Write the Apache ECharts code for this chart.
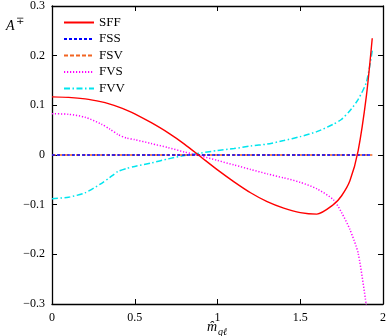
<!DOCTYPE html>
<html>
<head>
<meta charset="utf-8">
<script src="https://cdn.jsdelivr.net/npm/echarts@6/dist/echarts.min.js"></script>
<style>
html,body{margin:0;padding:0;background:#fff;}
#chart{width:390px;height:336px;}
</style>
</head>
<body>
<div id="chart"></div>
<script>
// x grid (m_hat_ql)
const xs = [0, 0.1, 0.2, 0.3, 0.35, 0.4, 0.45, 0.5, 0.6, 0.7, 0.8, 0.9, 1.0, 1.1, 1.2, 1.3, 1.4, 1.5, 1.6, 1.7, 1.75, 1.8, 1.85, 1.9, 1.935];
const sff = [0.117, 0.116, 0.113, 0.107, 0.1025, 0.097, 0.0905, 0.083, 0.065, 0.045, 0.022, -0.004, -0.030, -0.054, -0.076, -0.094, -0.107, -0.116, -0.119, -0.100, -0.082, -0.052, 0.009, 0.120, 0.235];
const fss = [0, 0, 0, 0, 0, 0, 0, 0, 0, 0, 0, 0, 0, 0, 0, 0, 0, 0, 0, 0, 0, 0, 0, 0, 0];
const fsv = [0, 0, 0, 0, 0, 0, 0, 0, 0, 0, 0, 0, 0, 0, 0, 0, 0, 0, 0, 0, 0, 0, 0, 0, 0];
const fvs = [0.083, 0.082, 0.076, 0.062, 0.052, 0.041, 0.034, 0.031, 0.023, 0.015, 0.006, -0.002, -0.011, -0.020, -0.029, -0.038, -0.046, -0.055, -0.068, -0.090, -0.116, -0.150, -0.198, -0.305, null];
const fvv = [-0.088, -0.085, -0.076, -0.057, -0.045, -0.033, -0.027, -0.023, -0.016, -0.008, -0.001, 0.004, 0.009, 0.013, 0.018, 0.022, 0.029, 0.037, 0.047, 0.062, 0.072, 0.089, 0.112, 0.147, 0.210];
const seriesNames = ['SFF', 'FSS', 'FSV', 'FVS', 'FVV'];
const xTicks = [0, 0.5, 1, 1.5, 2];
const yTicks = [-0.3, -0.2, -0.1, 0, 0.1, 0.2, 0.3];

const FONT = 'Liberation Serif';
function pairs(vals){ return xs.map((x,i)=>[x, vals[i]]).filter(p=>p[1]!==null); }
function fmtY(v){
  const r = Math.round(v*10)/10;
  if (r === 0) return '0';
  return (r<0?'\u2212':'') + Math.abs(r).toFixed(1);
}
function fmtX(v){ return String(Math.round(v*10)/10); }

const chart = echarts.init(document.getElementById('chart'), null, {renderer:'canvas'});
const axisLine = {show:true, onZero:false, lineStyle:{color:'#000', width:1.3}};
const tick = {show:true, inside:true, length:5, lineStyle:{color:'#000', width:1}};
const styles = [
  {color:'#ff0000', type:'solid', width:1.4},
  {color:'#0000ff', type:[3,2], width:1.4},
  {color:'#f26522', type:[4,2], width:1.4},
  {color:'#ff00ff', type:[1.2,1.8], width:1.5},
  {color:'#00e5ee', type:[6,2.5,1.5,2.5], width:1.5}
];
const data = [sff, fss, fsv, fvs, fvv];
chart.setOption({
  animation:false,
  backgroundColor:'#fff',
  grid:{left:52, right:7, top:5, bottom:32},
  legend:{
    orient:'vertical', left:63, top:16, padding:0,
    itemWidth:30, itemHeight:14, itemGap:3.5,
    itemStyle:{opacity:0},
    textStyle:{fontFamily:FONT, fontSize:13, color:'#000'},
    data:seriesNames
  },
  xAxis:[
    {type:'value', min:0, max:2, interval:0.5, position:'bottom',
     axisLine:axisLine, axisTick:tick, splitLine:{show:false},
     axisLabel:{formatter:fmtX, fontFamily:FONT, fontSize:12, color:'#000', margin:8}},
    {type:'value', min:0, max:2, interval:0.5, position:'top',
     axisLine:axisLine, axisTick:tick, splitLine:{show:false}, axisLabel:{show:false}}
  ],
  yAxis:[
    {type:'value', min:-0.3, max:0.3, interval:0.1, position:'left',
     axisLine:axisLine, axisTick:tick, splitLine:{show:false},
     axisLabel:{formatter:fmtY, fontFamily:FONT, fontSize:12, color:'#000', margin:7}},
    {type:'value', min:-0.3, max:0.3, interval:0.1, position:'right',
     axisLine:axisLine, axisTick:tick, splitLine:{show:false}, axisLabel:{show:false}}
  ],
  series: seriesNames.map((n,i)=>({
    name:n, type:'line', xAxisIndex:0, yAxisIndex:0,
    data:pairs(data[i]), symbol:'none', showSymbol:false,
    smooth:0.25, clip:true,
    lineStyle:styles[i], itemStyle:{color:styles[i].color},
    z: 10 - i
  })),
  graphic:[
    {type:'text', left:6, top:19, style:{text:'A', font:'italic 14px "'+FONT+'"', fill:'#000'}},
    {type:'text', left:16, top:16, style:{text:'\u2213', font:'10px "'+FONT+'"', fill:'#000'}},
    {type:'text', left:207, top:320, style:{text:'m\u0302', font:'italic 14px "'+FONT+'"', fill:'#000'}},
    {type:'text', left:218, top:327, style:{text:'q\u2113', font:'italic 10px "'+FONT+'"', fill:'#000'}}
  ]
});
</script>
</body>
</html>
